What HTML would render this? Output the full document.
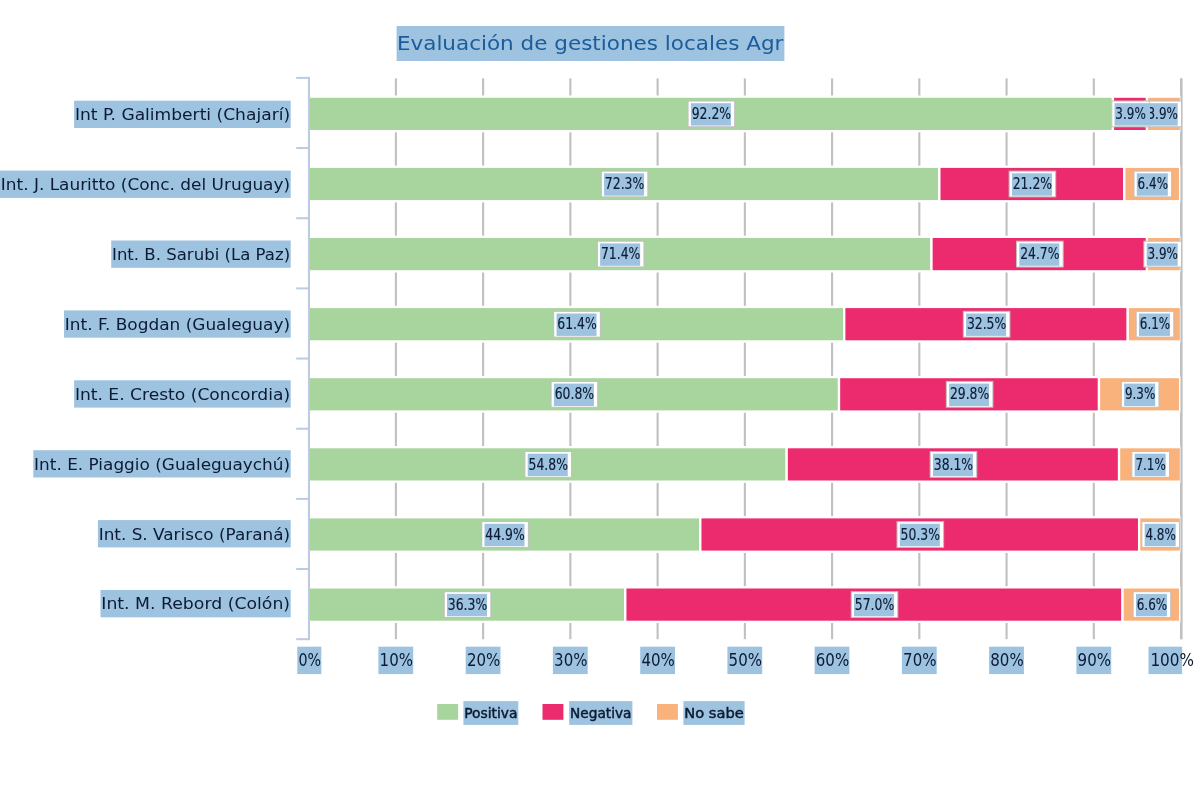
<!DOCTYPE html>
<html lang="es">
<head>
<meta charset="utf-8">
<title>Evaluación de gestiones locales</title>
<style>
html,body{margin:0;padding:0;background:#fff;}
body{width:1200px;height:800px;overflow:hidden;font-family:"DejaVu Sans","Liberation Sans",sans-serif;}
svg{display:block;}
</style>
</head>
<body>
<svg width="1200" height="800" viewBox="0 0 1200 800">
<rect x="0" y="0" width="1200" height="800" fill="#ffffff"/>
<rect x="394.84" y="78.40" width="2.1" height="560.80" fill="#c0c0c0"/>
<rect x="482.08" y="78.40" width="2.1" height="560.80" fill="#c0c0c0"/>
<rect x="569.32" y="78.40" width="2.1" height="560.80" fill="#c0c0c0"/>
<rect x="656.56" y="78.40" width="2.1" height="560.80" fill="#c0c0c0"/>
<rect x="743.80" y="78.40" width="2.1" height="560.80" fill="#c0c0c0"/>
<rect x="831.04" y="78.40" width="2.1" height="560.80" fill="#c0c0c0"/>
<rect x="918.28" y="78.40" width="2.1" height="560.80" fill="#c0c0c0"/>
<rect x="1005.52" y="78.40" width="2.1" height="560.80" fill="#c0c0c0"/>
<rect x="1092.76" y="78.40" width="2.1" height="560.80" fill="#c0c0c0"/>
<rect x="1180.00" y="78.40" width="2.1" height="560.80" fill="#c0c0c0"/>
<rect x="396.6" y="26" width="387.8" height="35" fill="#9dc3e0"/>
<svg x="396.6" y="20" width="387.8" height="50" overflow="hidden"><text x="0.3" y="30.2" font-family="'DejaVu Sans', 'Liberation Sans', sans-serif" font-size="20" fill="#1b5c99" textLength="386.5" lengthAdjust="spacingAndGlyphs">Evaluación de gestiones locales Agr</text></svg>
<rect x="74.1" y="100.7" width="216.6" height="27.3" fill="#9dc3e0"/>
<text x="74.9" y="120.1" font-family="'DejaVu Sans', 'Liberation Sans', sans-serif" font-size="16.6" fill="#0c1a33" textLength="215.2" lengthAdjust="spacingAndGlyphs">Int P. Galimberti (Chajarí)</text>
<rect x="308.60" y="96.65" width="804.35" height="34.5" fill="#a8d59d" stroke="#ffffff" stroke-width="2.3"/>
<rect x="1112.95" y="96.65" width="34.02" height="34.5" fill="#ec2a6e" stroke="#ffffff" stroke-width="2.3"/>
<rect x="1146.98" y="96.65" width="34.02" height="34.5" fill="#f9b27c" stroke="#ffffff" stroke-width="2.3"/>
<rect x="0.0" y="170.6" width="290.7" height="27.3" fill="#9dc3e0"/>
<text x="0.8" y="190.0" font-family="'DejaVu Sans', 'Liberation Sans', sans-serif" font-size="16.6" fill="#0c1a33" textLength="289.3" lengthAdjust="spacingAndGlyphs">Int. J. Lauritto (Conc. del Uruguay)</text>
<rect x="308.60" y="166.75" width="630.75" height="34.5" fill="#a8d59d" stroke="#ffffff" stroke-width="2.3"/>
<rect x="939.35" y="166.75" width="184.95" height="34.5" fill="#ec2a6e" stroke="#ffffff" stroke-width="2.3"/>
<rect x="1124.29" y="166.75" width="55.83" height="34.5" fill="#f9b27c" stroke="#ffffff" stroke-width="2.3"/>
<rect x="111.2" y="240.5" width="179.5" height="27.3" fill="#9dc3e0"/>
<text x="112.0" y="259.9" font-family="'DejaVu Sans', 'Liberation Sans', sans-serif" font-size="16.6" fill="#0c1a33" textLength="178.1" lengthAdjust="spacingAndGlyphs">Int. B. Sarubi (La Paz)</text>
<rect x="308.60" y="236.85" width="622.89" height="34.5" fill="#a8d59d" stroke="#ffffff" stroke-width="2.3"/>
<rect x="931.49" y="236.85" width="215.48" height="34.5" fill="#ec2a6e" stroke="#ffffff" stroke-width="2.3"/>
<rect x="1146.98" y="236.85" width="34.02" height="34.5" fill="#f9b27c" stroke="#ffffff" stroke-width="2.3"/>
<rect x="64.0" y="310.4" width="226.7" height="27.3" fill="#9dc3e0"/>
<text x="64.8" y="329.8" font-family="'DejaVu Sans', 'Liberation Sans', sans-serif" font-size="16.6" fill="#0c1a33" textLength="225.3" lengthAdjust="spacingAndGlyphs">Int. F. Bogdan (Gualeguay)</text>
<rect x="308.60" y="306.95" width="535.65" height="34.5" fill="#a8d59d" stroke="#ffffff" stroke-width="2.3"/>
<rect x="844.25" y="306.95" width="283.53" height="34.5" fill="#ec2a6e" stroke="#ffffff" stroke-width="2.3"/>
<rect x="1127.78" y="306.95" width="53.22" height="34.5" fill="#f9b27c" stroke="#ffffff" stroke-width="2.3"/>
<rect x="74.1" y="380.3" width="216.6" height="27.3" fill="#9dc3e0"/>
<text x="74.9" y="399.7" font-family="'DejaVu Sans', 'Liberation Sans', sans-serif" font-size="16.6" fill="#0c1a33" textLength="215.2" lengthAdjust="spacingAndGlyphs">Int. E. Cresto (Concordia)</text>
<rect x="308.60" y="377.05" width="530.42" height="34.5" fill="#a8d59d" stroke="#ffffff" stroke-width="2.3"/>
<rect x="839.02" y="377.05" width="259.98" height="34.5" fill="#ec2a6e" stroke="#ffffff" stroke-width="2.3"/>
<rect x="1098.99" y="377.05" width="81.13" height="34.5" fill="#f9b27c" stroke="#ffffff" stroke-width="2.3"/>
<rect x="33.3" y="450.2" width="257.4" height="27.3" fill="#9dc3e0"/>
<text x="34.1" y="469.6" font-family="'DejaVu Sans', 'Liberation Sans', sans-serif" font-size="16.6" fill="#0c1a33" textLength="256.0" lengthAdjust="spacingAndGlyphs">Int. E. Piaggio (Gualeguaychú)</text>
<rect x="308.60" y="447.15" width="478.08" height="34.5" fill="#a8d59d" stroke="#ffffff" stroke-width="2.3"/>
<rect x="786.68" y="447.15" width="332.38" height="34.5" fill="#ec2a6e" stroke="#ffffff" stroke-width="2.3"/>
<rect x="1119.06" y="447.15" width="61.94" height="34.5" fill="#f9b27c" stroke="#ffffff" stroke-width="2.3"/>
<rect x="97.9" y="520.1" width="192.8" height="27.3" fill="#9dc3e0"/>
<text x="98.7" y="539.5" font-family="'DejaVu Sans', 'Liberation Sans', sans-serif" font-size="16.6" fill="#0c1a33" textLength="191.4" lengthAdjust="spacingAndGlyphs">Int. S. Varisco (Paraná)</text>
<rect x="308.60" y="517.25" width="391.71" height="34.5" fill="#a8d59d" stroke="#ffffff" stroke-width="2.3"/>
<rect x="700.31" y="517.25" width="438.82" height="34.5" fill="#ec2a6e" stroke="#ffffff" stroke-width="2.3"/>
<rect x="1139.12" y="517.25" width="41.88" height="34.5" fill="#f9b27c" stroke="#ffffff" stroke-width="2.3"/>
<rect x="100.5" y="590.0" width="190.2" height="27.3" fill="#9dc3e0"/>
<text x="101.3" y="609.4" font-family="'DejaVu Sans', 'Liberation Sans', sans-serif" font-size="16.6" fill="#0c1a33" textLength="188.8" lengthAdjust="spacingAndGlyphs">Int. M. Rebord (Colón)</text>
<rect x="308.60" y="587.35" width="316.68" height="34.5" fill="#a8d59d" stroke="#ffffff" stroke-width="2.3"/>
<rect x="625.28" y="587.35" width="497.27" height="34.5" fill="#ec2a6e" stroke="#ffffff" stroke-width="2.3"/>
<rect x="1122.55" y="587.35" width="57.58" height="34.5" fill="#f9b27c" stroke="#ffffff" stroke-width="2.3"/>
<rect x="307.9" y="76.90" width="2.1" height="563.30" fill="#bccbe1"/>
<rect x="296.2" y="76.90" width="13" height="2" fill="#bccbe1"/>
<rect x="296.2" y="147.06" width="13" height="2" fill="#bccbe1"/>
<rect x="296.2" y="217.23" width="13" height="2" fill="#bccbe1"/>
<rect x="296.2" y="287.39" width="13" height="2" fill="#bccbe1"/>
<rect x="296.2" y="357.55" width="13" height="2" fill="#bccbe1"/>
<rect x="296.2" y="427.71" width="13" height="2" fill="#bccbe1"/>
<rect x="296.2" y="497.88" width="13" height="2" fill="#bccbe1"/>
<rect x="296.2" y="568.04" width="13" height="2" fill="#bccbe1"/>
<rect x="296.2" y="638.20" width="13" height="2" fill="#bccbe1"/>
<rect x="1180.45" y="78.40" width="2.1" height="560.80" fill="#c0c0c0"/>
<rect x="1143.90" y="101.00" width="37.60" height="25.8" fill="#ffffff" stroke="#bfbfbf" stroke-width="1"/>
<rect x="1146.70" y="103.20" width="31.00" height="22.4" fill="#9dc3e0"/>
<text x="1147.50" y="119.00" font-family="'DejaVu Sans Condensed', 'DejaVu Sans', 'Liberation Sans', sans-serif" font-size="15.2" fill="#0c1a33" stroke="#0c1a33" stroke-width="0.15" textLength="30.4" lengthAdjust="spacingAndGlyphs">3.9%</text>
<rect x="1111.76" y="101.00" width="37.60" height="25.8" fill="#ffffff" stroke="#bfbfbf" stroke-width="1"/>
<rect x="1114.56" y="103.20" width="35.00" height="22.4" fill="#9dc3e0"/>
<text x="1115.36" y="119.00" font-family="'DejaVu Sans Condensed', 'DejaVu Sans', 'Liberation Sans', sans-serif" font-size="15.2" fill="#0c1a33" stroke="#0c1a33" stroke-width="0.15" textLength="30.4" lengthAdjust="spacingAndGlyphs">3.9%</text>
<rect x="688.08" y="101.00" width="46.60" height="25.8" fill="#ffffff" stroke="#bfbfbf" stroke-width="1"/>
<rect x="690.88" y="103.20" width="40.00" height="22.4" fill="#9dc3e0"/>
<text x="691.68" y="119.00" font-family="'DejaVu Sans Condensed', 'DejaVu Sans', 'Liberation Sans', sans-serif" font-size="15.2" fill="#0c1a33" stroke="#0c1a33" stroke-width="0.15" textLength="39.4" lengthAdjust="spacingAndGlyphs">92.2%</text>
<rect x="1134.01" y="171.10" width="37.60" height="25.8" fill="#ffffff" stroke="#bfbfbf" stroke-width="1"/>
<rect x="1136.81" y="173.30" width="31.00" height="22.4" fill="#9dc3e0"/>
<text x="1137.61" y="189.10" font-family="'DejaVu Sans Condensed', 'DejaVu Sans', 'Liberation Sans', sans-serif" font-size="15.2" fill="#0c1a33" stroke="#0c1a33" stroke-width="0.15" textLength="30.4" lengthAdjust="spacingAndGlyphs">6.4%</text>
<rect x="1009.12" y="171.10" width="46.60" height="25.8" fill="#ffffff" stroke="#bfbfbf" stroke-width="1"/>
<rect x="1011.92" y="173.30" width="40.00" height="22.4" fill="#9dc3e0"/>
<text x="1012.72" y="189.10" font-family="'DejaVu Sans Condensed', 'DejaVu Sans', 'Liberation Sans', sans-serif" font-size="15.2" fill="#0c1a33" stroke="#0c1a33" stroke-width="0.15" textLength="39.4" lengthAdjust="spacingAndGlyphs">21.2%</text>
<rect x="601.27" y="171.10" width="46.60" height="25.8" fill="#ffffff" stroke="#bfbfbf" stroke-width="1"/>
<rect x="604.07" y="173.30" width="40.00" height="22.4" fill="#9dc3e0"/>
<text x="604.87" y="189.10" font-family="'DejaVu Sans Condensed', 'DejaVu Sans', 'Liberation Sans', sans-serif" font-size="15.2" fill="#0c1a33" stroke="#0c1a33" stroke-width="0.15" textLength="39.4" lengthAdjust="spacingAndGlyphs">72.3%</text>
<rect x="1143.90" y="241.20" width="37.60" height="25.8" fill="#ffffff" stroke="#bfbfbf" stroke-width="1"/>
<rect x="1146.70" y="243.40" width="31.00" height="22.4" fill="#9dc3e0"/>
<text x="1147.50" y="259.20" font-family="'DejaVu Sans Condensed', 'DejaVu Sans', 'Liberation Sans', sans-serif" font-size="15.2" fill="#0c1a33" stroke="#0c1a33" stroke-width="0.15" textLength="30.4" lengthAdjust="spacingAndGlyphs">3.9%</text>
<rect x="1016.54" y="241.20" width="46.60" height="25.8" fill="#ffffff" stroke="#bfbfbf" stroke-width="1"/>
<rect x="1019.34" y="243.40" width="40.00" height="22.4" fill="#9dc3e0"/>
<text x="1020.14" y="259.20" font-family="'DejaVu Sans Condensed', 'DejaVu Sans', 'Liberation Sans', sans-serif" font-size="15.2" fill="#0c1a33" stroke="#0c1a33" stroke-width="0.15" textLength="39.4" lengthAdjust="spacingAndGlyphs">24.7%</text>
<rect x="597.35" y="241.20" width="46.60" height="25.8" fill="#ffffff" stroke="#bfbfbf" stroke-width="1"/>
<rect x="600.15" y="243.40" width="40.00" height="22.4" fill="#9dc3e0"/>
<text x="600.95" y="259.20" font-family="'DejaVu Sans Condensed', 'DejaVu Sans', 'Liberation Sans', sans-serif" font-size="15.2" fill="#0c1a33" stroke="#0c1a33" stroke-width="0.15" textLength="39.4" lengthAdjust="spacingAndGlyphs">71.4%</text>
<rect x="1136.19" y="311.30" width="37.60" height="25.8" fill="#ffffff" stroke="#bfbfbf" stroke-width="1"/>
<rect x="1138.99" y="313.50" width="31.00" height="22.4" fill="#9dc3e0"/>
<text x="1139.79" y="329.30" font-family="'DejaVu Sans Condensed', 'DejaVu Sans', 'Liberation Sans', sans-serif" font-size="15.2" fill="#0c1a33" stroke="#0c1a33" stroke-width="0.15" textLength="30.4" lengthAdjust="spacingAndGlyphs">6.1%</text>
<rect x="963.32" y="311.30" width="46.60" height="25.8" fill="#ffffff" stroke="#bfbfbf" stroke-width="1"/>
<rect x="966.12" y="313.50" width="40.00" height="22.4" fill="#9dc3e0"/>
<text x="966.92" y="329.30" font-family="'DejaVu Sans Condensed', 'DejaVu Sans', 'Liberation Sans', sans-serif" font-size="15.2" fill="#0c1a33" stroke="#0c1a33" stroke-width="0.15" textLength="39.4" lengthAdjust="spacingAndGlyphs">32.5%</text>
<rect x="553.73" y="311.30" width="46.60" height="25.8" fill="#ffffff" stroke="#bfbfbf" stroke-width="1"/>
<rect x="556.53" y="313.50" width="40.00" height="22.4" fill="#9dc3e0"/>
<text x="557.33" y="329.30" font-family="'DejaVu Sans Condensed', 'DejaVu Sans', 'Liberation Sans', sans-serif" font-size="15.2" fill="#0c1a33" stroke="#0c1a33" stroke-width="0.15" textLength="39.4" lengthAdjust="spacingAndGlyphs">61.4%</text>
<rect x="1121.36" y="381.40" width="37.60" height="25.8" fill="#ffffff" stroke="#bfbfbf" stroke-width="1"/>
<rect x="1124.16" y="383.60" width="31.00" height="22.4" fill="#9dc3e0"/>
<text x="1124.96" y="399.40" font-family="'DejaVu Sans Condensed', 'DejaVu Sans', 'Liberation Sans', sans-serif" font-size="15.2" fill="#0c1a33" stroke="#0c1a33" stroke-width="0.15" textLength="30.4" lengthAdjust="spacingAndGlyphs">9.3%</text>
<rect x="946.31" y="381.40" width="46.60" height="25.8" fill="#ffffff" stroke="#bfbfbf" stroke-width="1"/>
<rect x="949.11" y="383.60" width="40.00" height="22.4" fill="#9dc3e0"/>
<text x="949.91" y="399.40" font-family="'DejaVu Sans Condensed', 'DejaVu Sans', 'Liberation Sans', sans-serif" font-size="15.2" fill="#0c1a33" stroke="#0c1a33" stroke-width="0.15" textLength="39.4" lengthAdjust="spacingAndGlyphs">29.8%</text>
<rect x="551.11" y="381.40" width="46.60" height="25.8" fill="#ffffff" stroke="#bfbfbf" stroke-width="1"/>
<rect x="553.91" y="383.60" width="40.00" height="22.4" fill="#9dc3e0"/>
<text x="554.71" y="399.40" font-family="'DejaVu Sans Condensed', 'DejaVu Sans', 'Liberation Sans', sans-serif" font-size="15.2" fill="#0c1a33" stroke="#0c1a33" stroke-width="0.15" textLength="39.4" lengthAdjust="spacingAndGlyphs">60.8%</text>
<rect x="1131.83" y="451.50" width="37.60" height="25.8" fill="#ffffff" stroke="#bfbfbf" stroke-width="1"/>
<rect x="1134.63" y="453.70" width="31.00" height="22.4" fill="#9dc3e0"/>
<text x="1135.43" y="469.50" font-family="'DejaVu Sans Condensed', 'DejaVu Sans', 'Liberation Sans', sans-serif" font-size="15.2" fill="#0c1a33" stroke="#0c1a33" stroke-width="0.15" textLength="30.4" lengthAdjust="spacingAndGlyphs">7.1%</text>
<rect x="930.17" y="451.50" width="46.60" height="25.8" fill="#ffffff" stroke="#bfbfbf" stroke-width="1"/>
<rect x="932.97" y="453.70" width="40.00" height="22.4" fill="#9dc3e0"/>
<text x="933.77" y="469.50" font-family="'DejaVu Sans Condensed', 'DejaVu Sans', 'Liberation Sans', sans-serif" font-size="15.2" fill="#0c1a33" stroke="#0c1a33" stroke-width="0.15" textLength="39.4" lengthAdjust="spacingAndGlyphs">38.1%</text>
<rect x="524.94" y="451.50" width="46.60" height="25.8" fill="#ffffff" stroke="#bfbfbf" stroke-width="1"/>
<rect x="527.74" y="453.70" width="40.00" height="22.4" fill="#9dc3e0"/>
<text x="528.54" y="469.50" font-family="'DejaVu Sans Condensed', 'DejaVu Sans', 'Liberation Sans', sans-serif" font-size="15.2" fill="#0c1a33" stroke="#0c1a33" stroke-width="0.15" textLength="39.4" lengthAdjust="spacingAndGlyphs">54.8%</text>
<rect x="1141.86" y="521.60" width="37.60" height="25.8" fill="#ffffff" stroke="#bfbfbf" stroke-width="1"/>
<rect x="1144.66" y="523.80" width="31.00" height="22.4" fill="#9dc3e0"/>
<text x="1145.46" y="539.60" font-family="'DejaVu Sans Condensed', 'DejaVu Sans', 'Liberation Sans', sans-serif" font-size="15.2" fill="#0c1a33" stroke="#0c1a33" stroke-width="0.15" textLength="30.4" lengthAdjust="spacingAndGlyphs">4.8%</text>
<rect x="897.02" y="521.60" width="46.60" height="25.8" fill="#ffffff" stroke="#bfbfbf" stroke-width="1"/>
<rect x="899.82" y="523.80" width="40.00" height="22.4" fill="#9dc3e0"/>
<text x="900.62" y="539.60" font-family="'DejaVu Sans Condensed', 'DejaVu Sans', 'Liberation Sans', sans-serif" font-size="15.2" fill="#0c1a33" stroke="#0c1a33" stroke-width="0.15" textLength="39.4" lengthAdjust="spacingAndGlyphs">50.3%</text>
<rect x="481.75" y="521.60" width="46.60" height="25.8" fill="#ffffff" stroke="#bfbfbf" stroke-width="1"/>
<rect x="484.55" y="523.80" width="40.00" height="22.4" fill="#9dc3e0"/>
<text x="485.35" y="539.60" font-family="'DejaVu Sans Condensed', 'DejaVu Sans', 'Liberation Sans', sans-serif" font-size="15.2" fill="#0c1a33" stroke="#0c1a33" stroke-width="0.15" textLength="39.4" lengthAdjust="spacingAndGlyphs">44.9%</text>
<rect x="1133.14" y="591.70" width="37.60" height="25.8" fill="#ffffff" stroke="#bfbfbf" stroke-width="1"/>
<rect x="1135.94" y="593.90" width="31.00" height="22.4" fill="#9dc3e0"/>
<text x="1136.74" y="609.70" font-family="'DejaVu Sans Condensed', 'DejaVu Sans', 'Liberation Sans', sans-serif" font-size="15.2" fill="#0c1a33" stroke="#0c1a33" stroke-width="0.15" textLength="30.4" lengthAdjust="spacingAndGlyphs">6.6%</text>
<rect x="851.22" y="591.70" width="46.60" height="25.8" fill="#ffffff" stroke="#bfbfbf" stroke-width="1"/>
<rect x="854.02" y="593.90" width="40.00" height="22.4" fill="#9dc3e0"/>
<text x="854.82" y="609.70" font-family="'DejaVu Sans Condensed', 'DejaVu Sans', 'Liberation Sans', sans-serif" font-size="15.2" fill="#0c1a33" stroke="#0c1a33" stroke-width="0.15" textLength="39.4" lengthAdjust="spacingAndGlyphs">57.0%</text>
<rect x="444.24" y="591.70" width="46.60" height="25.8" fill="#ffffff" stroke="#bfbfbf" stroke-width="1"/>
<rect x="447.04" y="593.90" width="40.00" height="22.4" fill="#9dc3e0"/>
<text x="447.84" y="609.70" font-family="'DejaVu Sans Condensed', 'DejaVu Sans', 'Liberation Sans', sans-serif" font-size="15.2" fill="#0c1a33" stroke="#0c1a33" stroke-width="0.15" textLength="39.4" lengthAdjust="spacingAndGlyphs">36.3%</text>
<rect x="297.3" y="646.7" width="24.0" height="27.4" fill="#9dc3e0"/>
<text x="298.5" y="666.3" font-family="'DejaVu Sans', 'Liberation Sans', sans-serif" font-size="16.8" fill="#0c1a33" textLength="22.6" lengthAdjust="spacingAndGlyphs">0%</text>
<rect x="378.4" y="646.7" width="34.8" height="27.4" fill="#9dc3e0"/>
<text x="379.6" y="666.3" font-family="'DejaVu Sans', 'Liberation Sans', sans-serif" font-size="16.8" fill="#0c1a33" textLength="33.4" lengthAdjust="spacingAndGlyphs">10%</text>
<rect x="465.7" y="646.7" width="34.8" height="27.4" fill="#9dc3e0"/>
<text x="466.9" y="666.3" font-family="'DejaVu Sans', 'Liberation Sans', sans-serif" font-size="16.8" fill="#0c1a33" textLength="33.4" lengthAdjust="spacingAndGlyphs">20%</text>
<rect x="552.9" y="646.7" width="34.8" height="27.4" fill="#9dc3e0"/>
<text x="554.1" y="666.3" font-family="'DejaVu Sans', 'Liberation Sans', sans-serif" font-size="16.8" fill="#0c1a33" textLength="33.4" lengthAdjust="spacingAndGlyphs">30%</text>
<rect x="640.2" y="646.7" width="34.8" height="27.4" fill="#9dc3e0"/>
<text x="641.4" y="666.3" font-family="'DejaVu Sans', 'Liberation Sans', sans-serif" font-size="16.8" fill="#0c1a33" textLength="33.4" lengthAdjust="spacingAndGlyphs">40%</text>
<rect x="727.4" y="646.7" width="34.8" height="27.4" fill="#9dc3e0"/>
<text x="728.6" y="666.3" font-family="'DejaVu Sans', 'Liberation Sans', sans-serif" font-size="16.8" fill="#0c1a33" textLength="33.4" lengthAdjust="spacingAndGlyphs">50%</text>
<rect x="814.6" y="646.7" width="34.8" height="27.4" fill="#9dc3e0"/>
<text x="815.8" y="666.3" font-family="'DejaVu Sans', 'Liberation Sans', sans-serif" font-size="16.8" fill="#0c1a33" textLength="33.4" lengthAdjust="spacingAndGlyphs">60%</text>
<rect x="901.9" y="646.7" width="34.8" height="27.4" fill="#9dc3e0"/>
<text x="903.1" y="666.3" font-family="'DejaVu Sans', 'Liberation Sans', sans-serif" font-size="16.8" fill="#0c1a33" textLength="33.4" lengthAdjust="spacingAndGlyphs">70%</text>
<rect x="989.1" y="646.7" width="34.8" height="27.4" fill="#9dc3e0"/>
<text x="990.3" y="666.3" font-family="'DejaVu Sans', 'Liberation Sans', sans-serif" font-size="16.8" fill="#0c1a33" textLength="33.4" lengthAdjust="spacingAndGlyphs">80%</text>
<rect x="1076.4" y="646.7" width="34.8" height="27.4" fill="#9dc3e0"/>
<text x="1077.6" y="666.3" font-family="'DejaVu Sans', 'Liberation Sans', sans-serif" font-size="16.8" fill="#0c1a33" textLength="33.4" lengthAdjust="spacingAndGlyphs">90%</text>
<rect x="1148.5" y="646.7" width="33.6" height="27.4" fill="#9dc3e0"/>
<text x="1150.4" y="666.3" font-family="'DejaVu Sans', 'Liberation Sans', sans-serif" font-size="16.8" fill="#0c1a33" textLength="43.6" lengthAdjust="spacingAndGlyphs">100%</text>
<rect x="437.2" y="704" width="20.9" height="15.8" fill="#a8d59d"/>
<rect x="463.4" y="701.1" width="54.9" height="23.8" fill="#9dc3e0"/>
<text x="464.3" y="717.9" font-family="'DejaVu Sans Condensed', 'DejaVu Sans', 'Liberation Sans', sans-serif" font-size="14.9" fill="#0c1a33" stroke="#0c1a33" stroke-width="0.45" textLength="53.1" lengthAdjust="spacingAndGlyphs">Positiva</text>
<rect x="542.5" y="704" width="20.9" height="15.8" fill="#ec2a6e"/>
<rect x="569.2" y="701.1" width="63.2" height="23.8" fill="#9dc3e0"/>
<text x="570.1" y="717.9" font-family="'DejaVu Sans Condensed', 'DejaVu Sans', 'Liberation Sans', sans-serif" font-size="14.9" fill="#0c1a33" stroke="#0c1a33" stroke-width="0.45" textLength="61.4" lengthAdjust="spacingAndGlyphs">Negativa</text>
<rect x="657.0" y="704" width="20.9" height="15.8" fill="#f9b27c"/>
<rect x="683.4" y="701.1" width="61.2" height="23.8" fill="#9dc3e0"/>
<text x="684.3" y="717.9" font-family="'DejaVu Sans Condensed', 'DejaVu Sans', 'Liberation Sans', sans-serif" font-size="14.9" fill="#0c1a33" stroke="#0c1a33" stroke-width="0.45" textLength="59.4" lengthAdjust="spacingAndGlyphs">No sabe</text>
</svg>
</body>
</html>
